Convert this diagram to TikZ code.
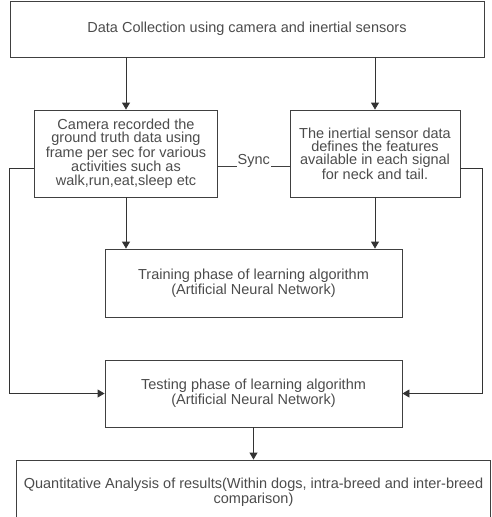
\documentclass[tikz,border=0pt]{standalone}
\usepackage{fontspec}
\setmainfont{Liberation Sans}
\usepackage{tikz}
\usetikzlibrary{arrows.meta,positioning}
\tikzstyle{block} = [draw=black!75, line width=0.9pt, text=black!70, align=center, inner sep=2pt, font=\fontsize{14.5}{13.4}\selectfont]
\tikzstyle{arrow} = [line width=0.9pt,-{Triangle[length=7pt,width=8pt]},draw=black!80]
\tikzstyle{link} = [line width=0.9pt,draw=black!75]

\begin{document}
\begin{tikzpicture}[x=1pt,y=-1pt]
        \useasboundingbox (0,0) rectangle (491,517);
        \node (data) [block, minimum width=474pt, minimum height=56pt] at (247,29) {Data Collection using camera and inertial sensors};
        \node (cam) [block, minimum width=183pt, minimum height=87pt] at (126,153.5) {Camera recorded the\\ground truth data using\\frame per sec for various\\activities such as\\walk,run,eat,sleep etc};
        \node (imu) [block, minimum width=170pt, minimum height=87pt] at (375,153.5) {The inertial sensor data\\defines the features\\available in each signal\\for neck and tail.};
        \node (train) [block, minimum width=297pt, minimum height=68pt] at (253.5,283) {Training phase of learning algorithm\\(Artificial Neural Network)};
        \node (test) [block, minimum width=297pt, minimum height=67pt] at (253.5,393.5) {Testing phase of learning algorithm\\(Artificial Neural Network)};
        \node (quant) [block, minimum width=474pt, minimum height=64pt] at (253.5,492) {Quantitative Analysis of results(Within dogs, intra-breed and inter-breed\\comparison)};

        \draw[arrow] (cam.north |- data.south) -- (cam.north);
        \draw[arrow] (imu.north |- data.south) -- (imu.north);
        \draw[arrow] (cam.south) -- (cam.south |- train.north);
        \draw[arrow] (imu.south) -- (imu.south |- train.north);
        \draw[arrow] (test.south) -- (quant.north);

        \draw[link] ([yshift=-13pt]cam.east) -- node [fill=white, inner sep=1pt, yshift=6pt, text=black!70, font=\fontsize{14.5}{14}\selectfont] (sync) {Sync} ([yshift=-13pt]imu.west);
        \draw[arrow] ([yshift=-15pt]cam.west) -- ++(-25,0) |- (test.west);
        \draw[arrow] ([yshift=-15pt]imu.east) -- ++(22,0) |- (test.east);
    \end{tikzpicture}
\end{document}
